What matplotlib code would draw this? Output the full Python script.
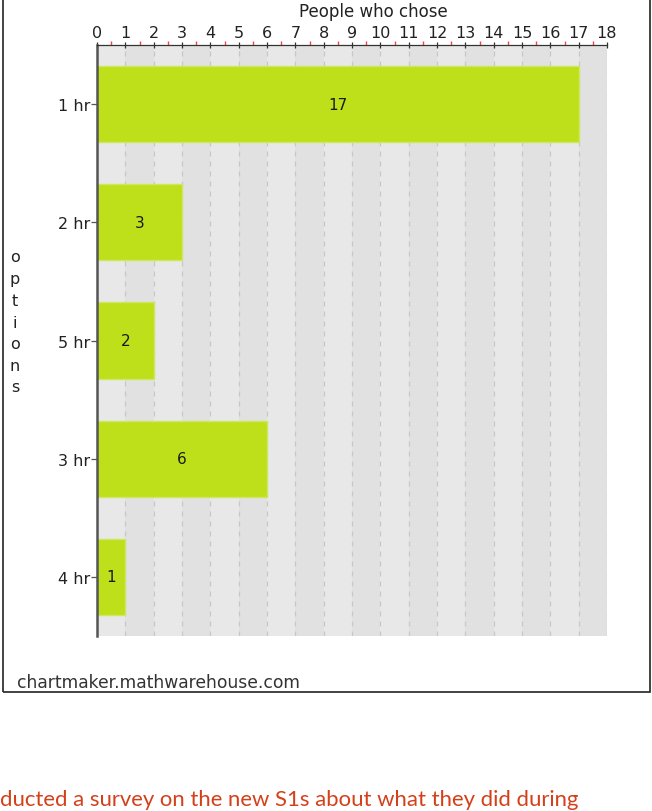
import matplotlib
matplotlib.use("Agg")
import matplotlib.pyplot as plt
from matplotlib.patches import Rectangle

categories = ["1 hr", "2 hr", "5 hr", "3 hr", "4 hr"]
values = [17, 3, 2, 6, 1]
xticks = list(range(0, 19))
x_title = "People who chose"
y_title = "options"
footer = "chartmaker.mathwarehouse.com"
caption = "ducted a survey on the new S1s about what they did during"

W, H = 652, 812
fig = plt.figure(figsize=(W / 100, H / 100), dpi=100)
fig.patch.set_facecolor("white")

L, R, T, B = 97, 607, 46, 637
ax = fig.add_axes([L / W, 1 - B / H, (R - L) / W, (B - T) / H])
ax.set_facecolor("#e8e8e8")

# alternating background bands
for k in range(1, 18, 2):
    ax.axvspan(k, k + 1, color="#e1e1e1", zorder=0, lw=0)
for k in range(1, 19):
    ax.axvline(k, color="#c8c8c8", lw=0.9, ls=(0, (4, 4)), zorder=0.5)

ypos = list(range(len(categories)))
ax.barh(ypos, values, height=0.645, color="#bde01a", edgecolor="#cde860",
        linewidth=1.0, zorder=2)
for y, v in zip(ypos, values):
    ax.text(v / 2, y, str(v), ha="center", va="center", fontsize=11,
            color="#1a1a1a", zorder=3)

ax.set_xlim(0, 18)
ax.set_ylim(len(categories) - 0.5, -0.5)
ax.xaxis.tick_top()
ax.set_xticks(xticks)
ax.set_xticklabels([str(t) for t in xticks], fontsize=11.5, color="#222")
ax.set_xticks([t + 0.5 for t in xticks[:-1]], minor=True)
ax.tick_params(axis="x", which="major", direction="inout", length=5,
               width=0.9, color="#333", pad=1)
ax.tick_params(axis="x", which="minor", direction="out", length=3,
               width=1.0, color="#ff4040")
ax.set_yticks(ypos)
ax.set_yticklabels(categories, fontsize=11.5, color="#222")
ax.tick_params(axis="y", direction="out", length=4, width=0.9,
               color="#555", pad=1)

for s in ["right", "bottom"]:
    ax.spines[s].set_visible(False)
ax.spines["left"].set_color("#555")
ax.spines["left"].set_linewidth(1.8)
ax.spines["top"].set_color("#333")
ax.spines["top"].set_linewidth(0.9)

fig.text(373 / W, 1 - 12 / H, x_title, ha="center", va="center",
         fontsize=12, color="#222")

n = len(y_title)
for i, ch in enumerate(y_title):
    yc = 258 + i * (388 - 258) / (n - 1)
    fig.text(15 / W, 1 - yc / H, ch, ha="center", va="center",
             fontsize=11.5, color="#222")

fig.text(17 / W, 1 - 683 / H, footer, ha="left", va="center",
         fontsize=12.3, color="#333")

fig.patches.append(Rectangle((3 / W, 1 - 693 / H), (650 - 3) / W, 693 / H + 0.01,
                             transform=fig.transFigure, fill=False,
                             edgecolor="#222", linewidth=1.2))

fig.text(0 / W, 1 - 800 / H, caption, ha="left", va="center",
         fontsize=15.9, color="#d4401a", family=["Lato", "DejaVu Sans"])

fig.savefig("out.png", dpi=100)
